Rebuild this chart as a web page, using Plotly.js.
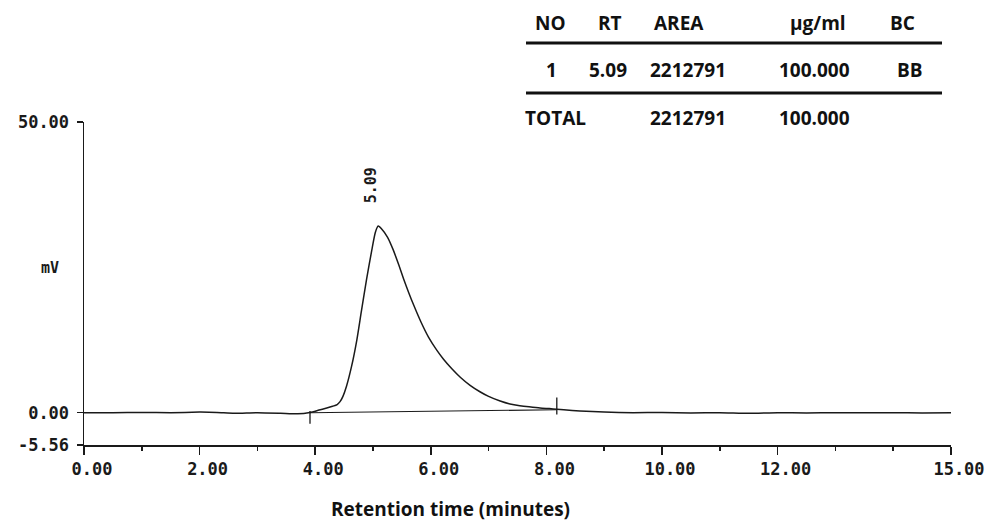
<!DOCTYPE html>
<html>
<head>
<meta charset="utf-8">
<script src="https://cdn.plot.ly/plotly-3.0.1.min.js"></script>
<style>html,body{margin:0;padding:0;background:#fff;}</style>
</head>
<body>
<div id="chart" style="width:985px;height:522px;"></div>
<script>
// ---- data ----
const timeMin = [0, 0.5, 1.0, 1.5, 2.0, 2.3, 2.6, 3.0, 3.4, 3.7, 3.91, 4.05, 4.2, 4.3, 4.38, 4.43, 4.48, 4.54, 4.63, 4.72, 4.80, 4.89, 4.98, 5.04, 5.09, 5.15, 5.25, 5.35, 5.45, 5.53, 5.62, 5.70, 5.83, 5.96, 6.10, 6.22, 6.36, 6.51, 6.68, 6.85, 7.00, 7.20, 7.37, 7.54, 7.70, 7.89, 8.05, 8.18, 8.30, 8.58, 9.0, 9.5, 10.0, 10.5, 11.0, 11.5, 12.0, 12.5, 13.0, 13.5, 14.0, 14.5, 15.0];
const signalMV = [0.0, 0.0, 0.05, 0.0, 0.1, 0.05, -0.1, 0.0, -0.1, -0.2, 0.05, 0.4, 0.8, 1.1, 1.4, 1.9, 2.8, 4.5, 8.0, 12.5, 17.5, 23.0, 28.0, 31.0, 32.1, 31.6, 30.2, 28.0, 25.3, 23.0, 20.6, 18.6, 15.6, 13.0, 10.8, 9.2, 7.6, 6.1, 4.7, 3.6, 2.8, 2.0, 1.5, 1.2, 1.0, 0.8, 0.7, 0.6, 0.5, 0.3, 0.1, 0.0, 0.05, -0.05, 0.0, -0.1, 0.0, -0.05, 0.0, 0.0, 0.0, -0.05, 0.0];
const baselineTime = [3.91, 8.18];
const baselineMV = [0.0, 0.5];
const eventTimes = [3.91, 8.18];
const eventLow = [-1.9, -0.3];
const eventHigh = [0.3, 2.6];
const peakRT = 5.09;
const peakHeight = 32.1;
const peakLabel = "5.09";

const xMajorTicks = [0, 2, 4, 6, 8, 10, 12, 15];
const xMajorLabels = ["0.00", "2.00", "4.00", "6.00", "8.00", "10.00", "12.00", "15.00"];
const xMinorTicks = [1, 3, 5, 7, 9, 11, 13, 14];
const yTicks = [-5.56, 0, 50];
const yLabels = ["-5.56", "0.00", "50.00"];

const tableHeader = ["NO", "RT", "AREA", "µg/ml", "BC"];
const tableRow = ["1", "5.09", "2212791", "100.000", "BB"];
const tableTotal = ["TOTAL", "", "2212791", "100.000", ""];

// ---- layout helpers (pixel -> paper) ----
const W = 985, H = 522;
const M = {l: 84, r: 34, t: 122, b: 77};
const pw = W - M.l - M.r, ph = H - M.t - M.b;
const px = v => (v - M.l) / pw;
const py = v => (H - M.b - v) / ph;

const ink = "#1a1a1a";
const monoFont = {family: "DejaVu Sans Mono", size: 17, color: ink, weight: "bold"};
const tableFont = {family: "Open Sans", size: 19, color: "#111", weight: 700};

const headerX = [550, 610, 679, 818, 902];
const rowX = [551, 608, 688, 814, 910];
const totalX = [555, 0, 688, 814, 0];

const annotations = [];
tableHeader.forEach((t, i) => annotations.push({xref: "paper", yref: "paper", x: px(headerX[i]), y: py(23), text: t, showarrow: false, xanchor: "center", yanchor: "middle", font: tableFont}));
tableRow.forEach((t, i) => annotations.push({xref: "paper", yref: "paper", x: px(rowX[i]), y: py(70), text: t, showarrow: false, xanchor: "center", yanchor: "middle", font: tableFont}));
tableTotal.forEach((t, i) => { if (t) annotations.push({xref: "paper", yref: "paper", x: px(totalX[i]), y: py(118), text: t, showarrow: false, xanchor: "center", yanchor: "middle", font: tableFont}); });

annotations.push({xref: "paper", yref: "paper", x: px(50), y: py(268), text: "mV", showarrow: false, xanchor: "center", yanchor: "middle", font: {family: "DejaVu Sans Mono", size: 15, color: ink, weight: "bold"}});
annotations.push({xref: "x", yref: "y", x: peakRT, y: peakHeight, text: peakLabel, textangle: -90, showarrow: false, xanchor: "center", yanchor: "middle", xshift: -7, yshift: 41, font: {family: "DejaVu Sans Mono", size: 15, color: ink, weight: "bold"}});
annotations.push({xref: "paper", yref: "paper", x: px(450), y: py(509), text: "Retention time (minutes)", showarrow: false, xanchor: "center", yanchor: "middle", font: {family: "Open Sans", size: 19, color: "#111", weight: 700}});

const shapes = [
  {type: "line", xref: "paper", yref: "paper", x0: px(526), x1: px(942), y0: py(43), y1: py(43), line: {color: "#111", width: 3}},
  {type: "line", xref: "paper", yref: "paper", x0: px(526), x1: px(942), y0: py(93), y1: py(93), line: {color: "#111", width: 3}}
];
eventTimes.forEach((t, i) => shapes.push({type: "line", xref: "x", yref: "y", x0: t, x1: t, y0: eventLow[i], y1: eventHigh[i], line: {color: ink, width: 1.3}}));

const traces = [
  {x: timeMin, y: signalMV, type: "scatter", mode: "lines", line: {color: ink, width: 1.5, shape: "spline", smoothing: 0.6}, hoverinfo: "skip"},
  {x: baselineTime, y: baselineMV, type: "scatter", mode: "lines", line: {color: ink, width: 1.1}, hoverinfo: "skip"}
];

const layout = {
  width: W, height: H,
  margin: M,
  paper_bgcolor: "#fff", plot_bgcolor: "#fff",
  showlegend: false,
  xaxis: {
    range: [0, 15], tickmode: "array", tickvals: xMajorTicks, ticktext: xMajorLabels,
    ticks: "outside", ticklen: 8, tickwidth: 1.5, tickcolor: ink,
    minor: {tickmode: "array", tickvals: xMinorTicks, ticks: "outside", ticklen: 4, tickwidth: 1.5, tickcolor: ink},
    showline: true, linecolor: ink, linewidth: 1.5, showgrid: false, zeroline: false,
    tickfont: monoFont, ticklabelshift: 8, ticklabelstandoff: 0, fixedrange: true
  },
  yaxis: {
    range: [-5.56, 50], tickmode: "array", tickvals: yTicks, ticktext: yLabels,
    ticks: "outside", ticklen: 6, tickwidth: 1.5, tickcolor: ink,
    showline: true, linecolor: ink, linewidth: 1.5, showgrid: false, zeroline: false,
    tickfont: monoFont, ticklabelstandoff: 4, fixedrange: true
  },
  annotations: annotations,
  shapes: shapes
};

Plotly.newPlot("chart", traces, layout, {displayModeBar: false, staticPlot: true});
</script>
</body>
</html>
